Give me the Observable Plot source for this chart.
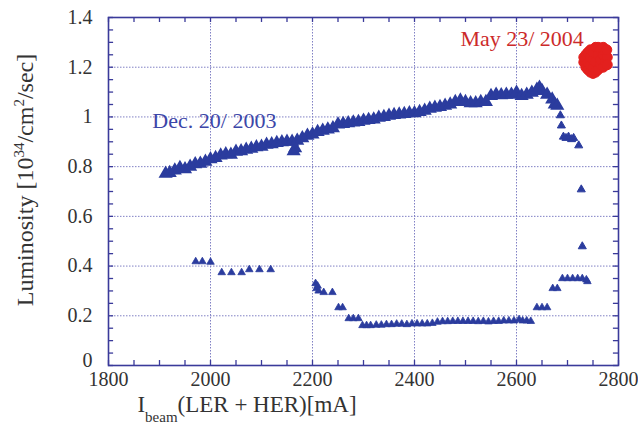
<!DOCTYPE html>
<html><head><meta charset="utf-8">
<script src="https://cdn.jsdelivr.net/npm/d3@7"></script>
<script src="https://cdn.jsdelivr.net/npm/@observablehq/plot@0.6"></script>
<style>body{margin:0;background:#fff;} #c{width:638px;height:427px;} svg text{font-family:'Liberation Serif','DejaVu Serif',serif !important;}</style>
</head><body><div id="c"></div>
<script>
// Dec. 20/ 2003 upper branch (I_beam mA, luminosity)
const decUpper = [[1912,0.772],[1920,0.775],[1930,0.785],[1940,0.795],[1950,0.79],[1960,0.80],[1970,0.81],[1980,0.812],[1990,0.82],[2000,0.83],[2010,0.835],[2020,0.845],[2030,0.85],[2040,0.848],[2050,0.86],[2060,0.862],[2070,0.868],[2080,0.872],[2090,0.878],[2100,0.88],[2110,0.888],[2120,0.89],[2130,0.895],[2140,0.898],[2150,0.90],[2160,0.90],[2163,0.862],[2166,0.874],[2170,0.905],[2180,0.915],[2190,0.925],[2200,0.93],[2210,0.94],[2220,0.945],[2230,0.95],[2240,0.955],[2250,0.97],[2260,0.972],[2270,0.975],[2280,0.978],[2290,0.98],[2300,0.985],[2310,0.988],[2320,0.99],[2330,0.997],[2340,1.0],[2350,1.005],[2360,1.008],[2370,1.01],[2380,1.012],[2390,1.015],[2400,1.015],[2410,1.02],[2420,1.025],[2430,1.033],[2440,1.037],[2450,1.04],[2460,1.045],[2470,1.05],[2480,1.06],[2490,1.066],[2500,1.06],[2510,1.055],[2520,1.055],[2530,1.06],[2540,1.06],[2550,1.085],[2560,1.09],[2570,1.088],[2580,1.09],[2590,1.09],[2600,1.098],[2610,1.085],[2620,1.09],[2630,1.098],[2640,1.11],[2645,1.118],[2650,1.105],[2660,1.09],[2670,1.07],[2675,1.05],[2680,1.045]];
// Dec. 20/ 2003 scattered points after the drop
const decDrop = [[2686,1.006],[2688,0.965],[2692,0.92],[2697,0.915],[2702,0.92],[2708,0.91],[2712,0.915],[2722,0.885],[2727,0.708],[2729,0.479]];
// Dec. 20/ 2003 lower branch
const decLower = [[1971,0.418],[1984,0.418],[2000,0.416],[2022,0.374],[2041,0.374],[2061,0.374],[2076,0.386],[2096,0.386],[2118,0.386],[2206,0.33],[2208,0.31],[2210,0.32],[2212,0.30],[2222,0.294],[2239,0.294],[2251,0.233],[2259,0.233],[2271,0.189],[2280,0.189],[2290,0.189],[2298,0.161],[2306,0.161],[2314,0.161],[2325,0.163],[2335,0.163],[2345,0.165],[2355,0.165],[2365,0.167],[2375,0.167],[2385,0.165],[2395,0.168],[2405,0.168],[2415,0.168],[2425,0.168],[2435,0.17],[2445,0.175],[2455,0.177],[2465,0.177],[2475,0.178],[2485,0.178],[2495,0.178],[2505,0.178],[2515,0.178],[2525,0.177],[2535,0.178],[2545,0.176],[2555,0.178],[2565,0.178],[2575,0.18],[2585,0.18],[2595,0.18],[2605,0.185],[2612,0.18],[2620,0.18],[2628,0.178],[2640,0.233],[2650,0.233],[2660,0.233],[2671,0.31],[2680,0.31],[2690,0.35],[2700,0.35],[2710,0.35],[2720,0.35],[2729,0.35],[2737,0.345],[2739,0.338]];
// May 23/ 2004 cluster
const mayPoints = [[2732,1.22],[2732,1.24],[2736,1.20],[2736,1.25],[2740,1.19],[2740,1.22],[2740,1.26],[2745,1.18],[2745,1.21],[2745,1.24],[2745,1.27],[2750,1.175],[2750,1.20],[2750,1.23],[2750,1.26],[2755,1.28],[2755,1.18],[2755,1.22],[2760,1.19],[2760,1.25],[2760,1.28],[2765,1.21],[2765,1.23],[2765,1.27],[2770,1.20],[2770,1.25],[2770,1.28],[2774,1.22],[2774,1.26],[2778,1.24],[2778,1.21],[2777,1.27]];
// annotations
const labels = [{x:1886,y:0.985,text:"Dec. 20/ 2003",color:"#3c46a8"},{x:2490,y:1.315,text:"May 23/ 2004",color:"#cc2a2a"}];
// ticks
const xMajor = [1800,2000,2200,2400,2600,2800];
const xMinor = d3.range(1800,2801,50);
const yMajor = [0.2,0.4,0.6,0.8,1,1.2,1.4];
const yZero = [0];
const yMinor = d3.range(0,1.401,0.05);
const xGrid = [2000,2200,2400,2600];
const yGrid = [0.2,0.4,0.6,0.8,1,1.2];

const blue = "#2b3c9e";
const frameCol = "#3a3a9a";
const gridCol = "#8080c4";
const serif = "'Liberation Serif','DejaVu Serif',serif";

const chart = Plot.plot({
  width:638, height:427,
  marginLeft:108, marginRight:20, marginTop:17, marginBottom:62,
  style:{fontFamily:serif, background:"#fff", overflow:"visible"},
  x:{domain:[1800,2800]},
  y:{domain:[0,1.4]},
  marks:[
    Plot.ruleX(xGrid,{stroke:gridCol, strokeDasharray:"1.5,1.5", strokeWidth:1}),
    Plot.ruleY(yGrid,{stroke:gridCol, strokeDasharray:"1.5,1.5", strokeWidth:1}),
    Plot.ruleX(xMinor,{y1:0, y2:0.02, stroke:frameCol, strokeWidth:1.3}),
    Plot.ruleX(xMinor,{y1:1.38, y2:1.4, stroke:frameCol, strokeWidth:1.3}),
    Plot.ruleY(yMinor,{x1:1800, x2:1810, stroke:frameCol, strokeWidth:1.3}),
    Plot.ruleY(yMinor,{x1:2790, x2:2800, stroke:frameCol, strokeWidth:1.3}),
    Plot.frame({stroke:frameCol, strokeWidth:1.6}),
    Plot.axisX(xMajor,{tickSize:0, tickPadding:6, fontSize:20, fill:"#333", tickFormat:d=>String(d), label:null}),
    Plot.axisY(yMajor,{tickSize:0, tickPadding:16, fontSize:20, fill:"#333", tickFormat:d=>String(d), label:null}),
    Plot.axisY(yZero,{tickSize:0, tickPadding:16, dy:-5, fontSize:20, fill:"#333", tickFormat:d=>String(d), label:null}),
    Plot.dot(decUpper,{x:d=>d[0], y:d=>d[1], symbol:"triangle", r:3, fill:blue, stroke:blue, strokeWidth:3.5}),
    Plot.dot(decDrop,{x:d=>d[0], y:d=>d[1], symbol:"triangle", r:3, fill:blue, stroke:blue, strokeWidth:1}),
    Plot.dot(decLower,{x:d=>d[0], y:d=>d[1], symbol:"triangle", r:2.8, fill:blue, stroke:blue, strokeWidth:0.8}),
    Plot.dot(mayPoints,{x:d=>d[0], y:d=>d[1], r:5, fill:"#e3201e", stroke:"#e3201e", strokeWidth:1}),
    Plot.text(labels,{x:"x", y:"y", text:"text", fill:d=>d.color, fontSize:22, textAnchor:"start", lineAnchor:"middle"})
  ]
});
document.getElementById("c").appendChild(chart);
const svg = d3.select(chart);
const yl = svg.append("text").attr("transform","translate(33,180) rotate(-90)")
  .attr("text-anchor","middle").attr("font-family",serif).attr("font-size",24).attr("fill","#333");
yl.append("tspan").text("Luminosity [10");
yl.append("tspan").attr("font-size",15).attr("dy",-9).text("34");
yl.append("tspan").attr("dy",9).text("/cm");
yl.append("tspan").attr("font-size",15).attr("dy",-9).text("2");
yl.append("tspan").attr("dy",9).text("/sec]");
const xl = svg.append("text").attr("x",247).attr("y",412)
  .attr("font-family",serif).attr("font-size",23).attr("fill","#333");
xl.append("tspan").text("I");
xl.append("tspan").attr("font-size",15).attr("dy",10).text("beam");
xl.append("tspan").attr("dy",-10).text("(LER + HER)[mA]");
</script>
</body></html>
